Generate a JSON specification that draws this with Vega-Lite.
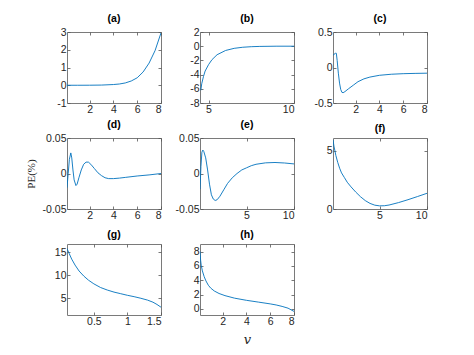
{
  "$schema": "https://vega.github.io/schema/vega-lite/v6.json",
  "padding": {"left": 24, "top": 13, "right": 5, "bottom": 5},
  "background": "white",
  "datasets": {
    "a": [{"x":0.1,"y":0},{"x":1,"y":0},{"x":2,"y":0.002},{"x":3,"y":0.01},{"x":4,"y":0.04},{"x":4.5,"y":0.07},{"x":5,"y":0.13},{"x":5.5,"y":0.24},{"x":6,"y":0.42},{"x":6.5,"y":0.75},{"x":7,"y":1.25},{"x":7.5,"y":1.95},{"x":8,"y":2.95}],
    "b": [{"x":4.55,"y":-6.2},{"x":4.6,"y":-5.3},{"x":4.7,"y":-4.3},{"x":4.8,"y":-3.5},{"x":5,"y":-2.6},{"x":5.2,"y":-1.9},{"x":5.5,"y":-1.2},{"x":6,"y":-0.6},{"x":6.5,"y":-0.3},{"x":7,"y":-0.15},{"x":7.5,"y":-0.07},{"x":8,"y":-0.03},{"x":9,"y":0},{"x":10,"y":0}],
    "c": [{"x":0.12,"y":0.17},{"x":0.2,"y":0.19},{"x":0.3,"y":0.2},{"x":0.38,"y":0.2},{"x":0.45,"y":0.1},{"x":0.55,"y":-0.08},{"x":0.65,"y":-0.22},{"x":0.75,"y":-0.31},{"x":0.85,"y":-0.35},{"x":0.95,"y":-0.355},{"x":1.1,"y":-0.34},{"x":1.4,"y":-0.3},{"x":1.8,"y":-0.25},{"x":2.2,"y":-0.2},{"x":2.7,"y":-0.16},{"x":3.2,"y":-0.135},{"x":4,"y":-0.11},{"x":5,"y":-0.095},{"x":6,"y":-0.087},{"x":7,"y":-0.083},{"x":8,"y":-0.08}],
    "d": [{"x":0.1,"y":-0.02},{"x":0.2,"y":0.0},{"x":0.3,"y":0.02},{"x":0.42,"y":0.029},{"x":0.5,"y":0.022},{"x":0.6,"y":0.005},{"x":0.7,"y":-0.009},{"x":0.85,"y":-0.017},{"x":0.95,"y":-0.015},{"x":1.1,"y":-0.006},{"x":1.3,"y":0.005},{"x":1.5,"y":0.013},{"x":1.7,"y":0.016},{"x":1.9,"y":0.016},{"x":2.1,"y":0.013},{"x":2.4,"y":0.007},{"x":2.7,"y":0.001},{"x":3.0,"y":-0.003},{"x":3.3,"y":-0.006},{"x":3.6,"y":-0.0072},{"x":4,"y":-0.0072},{"x":4.5,"y":-0.0065},{"x":5,"y":-0.0055},{"x":6,"y":-0.0035},{"x":7,"y":-0.002},{"x":8,"y":0.0}],
    "e": [{"x":0.1,"y":-0.022},{"x":0.2,"y":0.01},{"x":0.3,"y":0.03},{"x":0.4,"y":0.033},{"x":0.5,"y":0.031},{"x":0.7,"y":0.022},{"x":0.9,"y":0.005},{"x":1.1,"y":-0.015},{"x":1.3,"y":-0.03},{"x":1.5,"y":-0.036},{"x":1.7,"y":-0.038},{"x":1.9,"y":-0.037},{"x":2.2,"y":-0.032},{"x":2.6,"y":-0.023},{"x":3.0,"y":-0.014},{"x":3.5,"y":-0.006},{"x":4,"y":0.0},{"x":4.5,"y":0.005},{"x":5,"y":0.008},{"x":5.5,"y":0.011},{"x":6,"y":0.013},{"x":7,"y":0.015},{"x":8,"y":0.0155},{"x":9,"y":0.0148},{"x":10,"y":0.0135}],
    "f": [{"x":0.1,"y":5.95},{"x":0.2,"y":5.4},{"x":0.4,"y":4.6},{"x":0.6,"y":4.0},{"x":0.8,"y":3.5},{"x":1,"y":3.1},{"x":1.3,"y":2.7},{"x":1.6,"y":2.3},{"x":2,"y":1.9},{"x":2.5,"y":1.45},{"x":3,"y":1.05},{"x":3.5,"y":0.72},{"x":4,"y":0.48},{"x":4.5,"y":0.33},{"x":5,"y":0.27},{"x":5.5,"y":0.28},{"x":6,"y":0.34},{"x":7,"y":0.55},{"x":8,"y":0.8},{"x":9,"y":1.07},{"x":10,"y":1.35}],
    "g": [{"x":0.1,"y":15.8},{"x":0.13,"y":14.8},{"x":0.17,"y":13.5},{"x":0.22,"y":12.2},{"x":0.28,"y":10.9},{"x":0.35,"y":9.8},{"x":0.42,"y":8.9},{"x":0.5,"y":8.1},{"x":0.6,"y":7.3},{"x":0.7,"y":6.75},{"x":0.8,"y":6.3},{"x":0.9,"y":5.95},{"x":1.0,"y":5.6},{"x":1.1,"y":5.3},{"x":1.2,"y":4.95},{"x":1.3,"y":4.55},{"x":1.38,"y":4.1},{"x":1.44,"y":3.6},{"x":1.5,"y":3.0}],
    "h": [{"x":0.1,"y":8.0},{"x":0.15,"y":6.8},{"x":0.2,"y":6.1},{"x":0.3,"y":5.3},{"x":0.45,"y":4.5},{"x":0.6,"y":3.9},{"x":0.8,"y":3.3},{"x":1,"y":2.9},{"x":1.3,"y":2.5},{"x":1.7,"y":2.15},{"x":2.2,"y":1.85},{"x":3,"y":1.5},{"x":4,"y":1.2},{"x":5,"y":0.95},{"x":6,"y":0.7},{"x":6.5,"y":0.55},{"x":7,"y":0.35},{"x":7.5,"y":0.1},{"x":8,"y":-0.35}]
  },
  "columns": 3,
  "spacing": {"row": 35, "column": 39},
  "bounds": "flush",
  "concat": [
    {"title": "(a)", "width": 94, "height": 71, "data": {"name": "a"},
     "layer": [
       {"mark": {"type": "line", "clip": true},
        "encoding": {"x": {"field": "x", "type": "quantitative", "scale": {"domain": [0.1, 8], "nice": false, "zero": false}, "axis": {"values": [2,4,6,8], "title": null}},
                     "y": {"field": "y", "type": "quantitative", "scale": {"domain": [-1, 3], "nice": false, "zero": false}, "axis": {"values": [-1,0,1,2,3], "title": null}}}},
       {"mark": {"type": "point", "opacity": 0},
        "encoding": {"x": {"field": "x", "type": "quantitative", "scale": {"domain": [0.1, 8], "nice": false, "zero": false}, "axis": {"orient": "top", "values": [2,4,6,8], "labels": false, "title": null}},
                     "y": {"field": "y", "type": "quantitative", "scale": {"domain": [-1, 3], "nice": false, "zero": false}, "axis": {"orient": "right", "values": [-1,0,1,2,3], "labels": false, "title": null}}}}
     ],
     "resolve": {"axis": {"x": "independent", "y": "independent"}}},
    {"title": "(b)", "width": 94, "height": 71, "data": {"name": "b"},
     "layer": [
       {"mark": {"type": "line", "clip": true},
        "encoding": {"x": {"field": "x", "type": "quantitative", "scale": {"domain": [4.5, 10], "nice": false, "zero": false}, "axis": {"values": [5,10], "title": null}},
                     "y": {"field": "y", "type": "quantitative", "scale": {"domain": [-8, 2], "nice": false, "zero": false}, "axis": {"values": [-8,-6,-4,-2,0,2], "title": null}}}},
       {"mark": {"type": "point", "opacity": 0},
        "encoding": {"x": {"field": "x", "type": "quantitative", "scale": {"domain": [4.5, 10], "nice": false, "zero": false}, "axis": {"orient": "top", "values": [5,10], "labels": false, "title": null}},
                     "y": {"field": "y", "type": "quantitative", "scale": {"domain": [-8, 2], "nice": false, "zero": false}, "axis": {"orient": "right", "values": [-8,-6,-4,-2,0,2], "labels": false, "title": null}}}}
     ],
     "resolve": {"axis": {"x": "independent", "y": "independent"}}},
    {"title": "(c)", "width": 94, "height": 71, "data": {"name": "c"},
     "layer": [
       {"mark": {"type": "line", "clip": true},
        "encoding": {"x": {"field": "x", "type": "quantitative", "scale": {"domain": [0.1, 8], "nice": false, "zero": false}, "axis": {"values": [2,4,6,8], "title": null}},
                     "y": {"field": "y", "type": "quantitative", "scale": {"domain": [-0.5, 0.5], "nice": false, "zero": false}, "axis": {"values": [-0.5,0,0.5], "title": null}}}},
       {"mark": {"type": "point", "opacity": 0},
        "encoding": {"x": {"field": "x", "type": "quantitative", "scale": {"domain": [0.1, 8], "nice": false, "zero": false}, "axis": {"orient": "top", "values": [2,4,6,8], "labels": false, "title": null}},
                     "y": {"field": "y", "type": "quantitative", "scale": {"domain": [-0.5, 0.5], "nice": false, "zero": false}, "axis": {"orient": "right", "values": [-0.5,0,0.5], "labels": false, "title": null}}}}
     ],
     "resolve": {"axis": {"x": "independent", "y": "independent"}}},
    {"title": "(d)", "width": 94, "height": 71, "data": {"name": "d"},
     "layer": [
       {"mark": {"type": "line", "clip": true},
        "encoding": {"x": {"field": "x", "type": "quantitative", "scale": {"domain": [0.1, 8], "nice": false, "zero": false}, "axis": {"values": [2,4,6,8], "title": null}},
                     "y": {"field": "y", "type": "quantitative", "scale": {"domain": [-0.05, 0.05], "nice": false, "zero": false}, "axis": {"values": [-0.05,0,0.05], "title": "PE(%)", "titleFont": "Liberation Serif", "titleFontWeight": "normal", "titleFontSize": 11, "titleColor": "#262626", "titlePadding": 6}}}},
       {"mark": {"type": "point", "opacity": 0},
        "encoding": {"x": {"field": "x", "type": "quantitative", "scale": {"domain": [0.1, 8], "nice": false, "zero": false}, "axis": {"orient": "top", "values": [2,4,6,8], "labels": false, "title": null}},
                     "y": {"field": "y", "type": "quantitative", "scale": {"domain": [-0.05, 0.05], "nice": false, "zero": false}, "axis": {"orient": "right", "values": [-0.05,0,0.05], "labels": false, "title": null}}}}
     ],
     "resolve": {"axis": {"x": "independent", "y": "independent"}}},
    {"title": "(e)", "width": 94, "height": 71, "data": {"name": "e"},
     "layer": [
       {"mark": {"type": "line", "clip": true},
        "encoding": {"x": {"field": "x", "type": "quantitative", "scale": {"domain": [0.1, 10], "nice": false, "zero": false}, "axis": {"values": [5,10], "title": null}},
                     "y": {"field": "y", "type": "quantitative", "scale": {"domain": [-0.05, 0.05], "nice": false, "zero": false}, "axis": {"values": [-0.05,0,0.05], "title": null}}}},
       {"mark": {"type": "point", "opacity": 0},
        "encoding": {"x": {"field": "x", "type": "quantitative", "scale": {"domain": [0.1, 10], "nice": false, "zero": false}, "axis": {"orient": "top", "values": [5,10], "labels": false, "title": null}},
                     "y": {"field": "y", "type": "quantitative", "scale": {"domain": [-0.05, 0.05], "nice": false, "zero": false}, "axis": {"orient": "right", "values": [-0.05,0,0.05], "labels": false, "title": null}}}}
     ],
     "resolve": {"axis": {"x": "independent", "y": "independent"}}},
    {"title": "(f)", "width": 94, "height": 71, "data": {"name": "f"},
     "layer": [
       {"mark": {"type": "line", "clip": true},
        "encoding": {"x": {"field": "x", "type": "quantitative", "scale": {"domain": [0.1, 10], "nice": false, "zero": false}, "axis": {"values": [5,10], "title": null}},
                     "y": {"field": "y", "type": "quantitative", "scale": {"domain": [0, 6.1], "nice": false, "zero": false}, "axis": {"values": [0,5], "title": null}}}},
       {"mark": {"type": "point", "opacity": 0},
        "encoding": {"x": {"field": "x", "type": "quantitative", "scale": {"domain": [0.1, 10], "nice": false, "zero": false}, "axis": {"orient": "top", "values": [5,10], "labels": false, "title": null}},
                     "y": {"field": "y", "type": "quantitative", "scale": {"domain": [0, 6.1], "nice": false, "zero": false}, "axis": {"orient": "right", "values": [0,5], "labels": false, "title": null}}}}
     ],
     "resolve": {"axis": {"x": "independent", "y": "independent"}}},
    {"title": "(g)", "width": 94, "height": 71, "data": {"name": "g"},
     "layer": [
       {"mark": {"type": "line", "clip": true},
        "encoding": {"x": {"field": "x", "type": "quantitative", "scale": {"domain": [0.1, 1.5], "nice": false, "zero": false}, "axis": {"values": [0.5,1,1.5], "title": null}},
                     "y": {"field": "y", "type": "quantitative", "scale": {"domain": [1.3, 16.8], "nice": false, "zero": false}, "axis": {"values": [5,10,15], "title": null}}}},
       {"mark": {"type": "point", "opacity": 0},
        "encoding": {"x": {"field": "x", "type": "quantitative", "scale": {"domain": [0.1, 1.5], "nice": false, "zero": false}, "axis": {"orient": "top", "values": [0.5,1,1.5], "labels": false, "title": null}},
                     "y": {"field": "y", "type": "quantitative", "scale": {"domain": [1.3, 16.8], "nice": false, "zero": false}, "axis": {"orient": "right", "values": [5,10,15], "labels": false, "title": null}}}}
     ],
     "resolve": {"axis": {"x": "independent", "y": "independent"}}},
    {"title": "(h)", "width": 94, "height": 71, "data": {"name": "h"},
     "layer": [
       {"mark": {"type": "line", "clip": true},
        "encoding": {"x": {"field": "x", "type": "quantitative", "scale": {"domain": [0.1, 8], "nice": false, "zero": false}, "axis": {"values": [2,4,6,8], "title": "v", "titleFont": "DejaVu Serif", "titleFontStyle": "italic", "titleFontWeight": "normal", "titleFontSize": 13, "titleColor": "#262626", "titlePadding": 7}},
                     "y": {"field": "y", "type": "quantitative", "scale": {"domain": [-0.85, 9.05], "nice": false, "zero": false}, "axis": {"values": [0,2,4,6,8], "title": null}}}},
       {"mark": {"type": "point", "opacity": 0},
        "encoding": {"x": {"field": "x", "type": "quantitative", "scale": {"domain": [0.1, 8], "nice": false, "zero": false}, "axis": {"orient": "top", "values": [2,4,6,8], "labels": false, "title": null}},
                     "y": {"field": "y", "type": "quantitative", "scale": {"domain": [-0.85, 9.05], "nice": false, "zero": false}, "axis": {"orient": "right", "values": [0,2,4,6,8], "labels": false, "title": null}}}}
     ],
     "resolve": {"axis": {"x": "independent", "y": "independent"}}}
  ],
  "config": {
    "view": {"stroke": "#7a7a7a", "strokeWidth": 1},
    "axis": {"domain": false, "grid": false, "ticks": true, "tickSize": -3, "tickColor": "#555555", "tickWidth": 0.8, "labelFont": "Liberation Sans", "labelFontSize": 10.5, "labelColor": "#262626", "labelPadding": 4, "labelExpr": "toString(datum.value)"},
    "title": {"font": "Liberation Sans", "fontSize": 10.5, "fontWeight": "bold", "color": "#000000", "offset": 3},
    "line": {"color": "#0072BD", "strokeWidth": 0.9}
  }
}
